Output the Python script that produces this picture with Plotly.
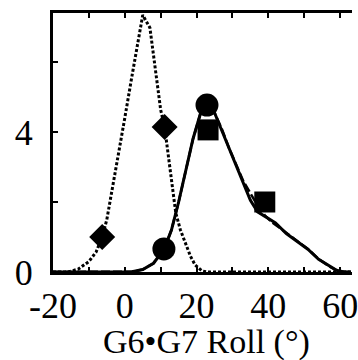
import plotly.graph_objects as go

# Dotted distribution (G6-G7 roll)
dot_x = [-20, -16, -13, -10, -8, -6.3, -5, -3, 0, 2, 4, 5, 7, 8, 9, 10, 11.1, 12, 13, 14.2, 15.5, 16.9, 18.3, 19.6, 21.5, 23, 30, 63]
dot_y = [0, 0.0, 0.08, 0.3, 0.57, 1.0, 1.5, 2.63, 4.4, 5.6, 6.8, 7.34, 6.98, 6.2, 5.4, 4.63, 4.14, 3.4, 2.63, 1.69, 1.2, 0.83, 0.45, 0.2, 0.03, 0, 0, 0]

# Solid distribution
sol_x = [-20, 0, 2, 5, 8, 11, 13, 15, 17, 19, 21, 23, 25, 27, 29, 31, 33, 35, 37, 40, 42, 45, 48, 51, 54, 57, 59, 61, 63]
sol_y = [0, 0, 0.01, 0.07, 0.25, 0.66, 1.2, 2.0, 2.9, 3.8, 4.5, 4.78, 4.55, 4.05, 3.5, 3.0, 2.5, 2.05, 1.72, 1.52, 1.4, 1.1, 0.88, 0.65, 0.36, 0.16, 0.05, 0, 0]

# Dashed distribution
dsh_x = [-20, 0, 2, 5, 8, 11, 13, 15, 17, 19, 21, 23, 25, 27, 29, 31, 33, 35, 37, 39, 41, 45, 48, 51, 54, 57, 59, 61, 63]
dsh_y = [0, 0, 0.01, 0.07, 0.25, 0.66, 1.2, 2.0, 2.9, 3.8, 4.5, 4.78, 4.55, 4.1, 3.55, 3.05, 2.6, 2.25, 1.9, 1.62, 1.42, 1.12, 0.9, 0.66, 0.37, 0.16, 0.05, 0, 0]

diamond_x = [-6.3, 11.1]
diamond_y = [1.0, 4.14]
circle_x = [10.9, 22.9]
circle_y = [0.66, 4.77]
square_x = [23.2, 39.0]
square_y = [4.06, 2.0]

x_ticks = [-20, -10, 0, 10, 20, 30, 40, 50, 60]
x_labels = ["-20", "", "0", "", "20", "", "40", "", "60"]
y_ticks = [0, 2, 4, 6]
y_labels = ["0", "", "4", ""]

fig = go.Figure()
fig.add_trace(go.Scatter(x=dot_x, y=dot_y, mode="lines",
                         line=dict(color="black", width=3, dash="3px,2px")))
fig.add_trace(go.Scatter(x=sol_x, y=sol_y, mode="lines",
                         line=dict(color="black", width=3)))
fig.add_trace(go.Scatter(x=dsh_x, y=dsh_y, mode="lines",
                         line=dict(color="black", width=2.5, dash="9px,3px")))
fig.add_trace(go.Scatter(x=diamond_x, y=diamond_y, mode="markers",
                         marker=dict(symbol="diamond", size=20, color="black")))
fig.add_trace(go.Scatter(x=circle_x, y=circle_y, mode="markers",
                         marker=dict(symbol="circle", size=23, color="black")))
fig.add_trace(go.Scatter(x=square_x, y=square_y, mode="markers",
                         marker=dict(symbol="square", size=21, color="black")))

font = dict(family="Liberation Serif", size=36, color="black")

fig.update_layout(
    width=358, height=360,
    margin=dict(l=53, r=0, t=13, b=88),
    paper_bgcolor="white", plot_bgcolor="white",
    showlegend=False,
    font=font,
    xaxis=dict(range=[-20, 63.3], tickvals=x_ticks, ticktext=x_labels,
               ticks="inside", ticklen=5, tickwidth=2, tickcolor="black",
               showline=True, linewidth=3, linecolor="black", mirror="ticks",
               showgrid=False, zeroline=False, tickfont=font,
               ticklabelstandoff=0, ticklabeloverflow="allow"),
    yaxis=dict(range=[0, 7.4], tickvals=y_ticks, ticktext=y_labels,
               ticks="inside", ticklen=5, tickwidth=2, tickcolor="black",
               showline=True, linewidth=3, linecolor="black", mirror=False,
               showgrid=False, zeroline=False, tickfont=font,
               ticklabelstandoff=10),
    annotations=[dict(text="G6•G7 Roll (°)", xref="paper", yref="paper",
                      x=0.515, y=-0.272, xanchor="center", yanchor="middle",
                      showarrow=False, font=dict(family="Liberation Serif", size=34, color="black"))],
)

fig.write_html("out.html")
